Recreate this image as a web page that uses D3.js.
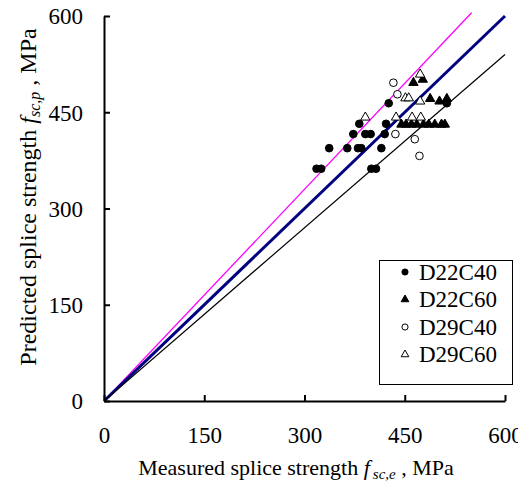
<!DOCTYPE html>
<html>
<head>
<meta charset="utf-8">
<script src="https://d3js.org/d3.v7.min.js"></script>
<style>
  body { margin: 0; background: #fff; }
</style>
</head>
<body>
<div id="chart"></div>
<script>
// measured (x) and predicted (y) splice strength, MPa
var d22c40X = [318, 325, 400, 407, 337, 364, 380, 385, 415, 373, 391, 399, 420, 382, 422, 426, 513];
var d22c40Y = [362, 362, 362, 362, 394, 394, 394, 394, 394, 416, 416, 416, 416, 432, 432, 464, 464];
var d22c60X = [463, 477, 488, 502, 513, 445, 452, 460, 468, 478, 486, 495, 505, 510];
var d22c60Y = [496, 501, 471, 467, 471, 431, 431, 431, 431, 431, 431, 431, 431, 431];
var d29c40X = [433, 439, 436, 465, 472];
var d29c40Y = [496, 478, 416, 408, 382];
var d29c60X = [473, 451, 456, 473, 391, 437, 461, 474];
var d29c60Y = [509, 472, 472, 467, 442, 442, 442, 442];

var ticks = [0, 150, 300, 450, 600];
var seriesNames = ["D22C40", "D22C60", "D29C40", "D29C60"];
// reference lines y = k * x
var lineSlopes = [1.1, 1.0, 0.9];

var FONT = "'Liberation Serif', 'Times New Roman', Tinos, 'DejaVu Serif', serif";

function init()
{
    var W = 518, H = 485;
    var left = 104, top = 16;
    var w = 401, h = 385;

    var svg = d3.select("#chart")
                .append("svg")
                .attr("width", W)
                .attr("height", H)
                .style("font-family", FONT);

    var xScale = d3.scaleLinear().domain([0, 600]).range([left, left + w]);
    var yScale = d3.scaleLinear().domain([0, 600]).range([top + h, top]);

    // reference lines, clipped to the plot
    svg.append("clipPath").attr("id", "clip")
       .append("rect").attr("x", left).attr("y", top - 4).attr("width", w + 2).attr("height", h + 4);

    var lineStyle = [
        { color: "#ff00ff", width: 1.3 },
        { color: "#000080", width: 3 },
        { color: "#000000", width: 1.2 }
    ];
    svg.append("g").attr("clip-path", "url(#clip)")
       .selectAll("line")
       .data(lineSlopes)
       .enter()
       .append("line")
       .attr("x1", xScale(0))
       .attr("y1", yScale(0))
       .attr("x2", function(k) { return xScale(Math.min(600, 605 / k)); })
       .attr("y2", function(k) { return yScale(Math.min(600, 605 / k) * k); })
       .attr("stroke", function(k, i) { return lineStyle[i].color; })
       .attr("stroke-width", function(k, i) { return lineStyle[i].width; });

    // axes, ticks point inward
    var xAxis = d3.axisBottom(xScale).tickValues(ticks).tickSizeInner(-6).tickSizeOuter(0);
    var yAxis = d3.axisLeft(yScale).tickValues(ticks).tickSizeInner(-6).tickSizeOuter(0);

    var gx = svg.append("g").attr("transform", "translate(0," + (top + h) + ")").call(xAxis);
    var gy = svg.append("g").attr("transform", "translate(" + left + ",0)").call(yAxis);
    [gx, gy].forEach(function(g) {
        g.attr("font-family", null).attr("font-size", null);
        g.select(".domain").attr("stroke", "#000").attr("stroke-width", 2);
        g.selectAll(".tick line").attr("stroke", "#000").attr("stroke-width", 2);
        g.selectAll(".tick text")
         .attr("fill", "#000")
         .style("font-family", FONT)
         .style("font-size", "23px");
    });
    gx.selectAll(".tick text").attr("y", 42).attr("dy", null);
    gy.selectAll(".tick text").attr("x", -21).attr("dy", "0.34em");

    // points
    var series = [
        { xs: d22c40X, ys: d22c40Y, shape: d3.symbolCircle, fill: "#000" },
        { xs: d22c60X, ys: d22c60Y, shape: d3.symbolTriangle, fill: "#000" },
        { xs: d29c40X, ys: d29c40Y, shape: d3.symbolCircle, fill: "#fff" },
        { xs: d29c60X, ys: d29c60Y, shape: d3.symbolTriangle, fill: "#fff" }
    ];

    series.forEach(function(s) {
        var size = s.shape === d3.symbolCircle ? 46 : 38;
        svg.append("g")
           .selectAll("path")
           .data(s.xs)
           .enter()
           .append("path")
           .attr("d", d3.symbol().type(s.shape).size(size))
           .attr("transform", function(d, i) {
               return "translate(" + xScale(d) + "," + yScale(s.ys[i]) + ")";
           })
           .attr("fill", s.fill)
           .attr("stroke", "#000")
           .attr("stroke-width", 1);
    });

    // legend
    var lg = svg.append("g");
    lg.append("rect")
      .attr("x", 379.5).attr("y", 260.5)
      .attr("width", 133).attr("height", 124)
      .attr("fill", "#fff")
      .attr("stroke", "#000")
      .attr("stroke-width", 1);

    seriesNames.forEach(function(name, i) {
        var y = 272 + i * 27.5;
        lg.append("path")
          .attr("d", d3.symbol().type(series[i].shape).size(series[i].shape === d3.symbolCircle ? 30 : 26))
          .attr("transform", "translate(405," + y + ")")
          .attr("fill", series[i].fill)
          .attr("stroke", "#000")
          .attr("stroke-width", 1);
        lg.append("text")
          .attr("x", 419)
          .attr("y", y + 7.5)
          .style("font-family", FONT)
          .style("font-size", "23px")
          .text(name);
    });

    // axis titles
    var xt = svg.append("text")
                .attr("x", 296)
                .attr("y", 474.5)
                .attr("text-anchor", "middle")
                .style("font-family", FONT)
                .style("font-size", "22px");
    xt.append("tspan").text("Measured splice strength ");
    xt.append("tspan").attr("font-style", "italic").text("f");
    xt.append("tspan").attr("font-style", "italic").style("font-size", "15px").attr("dy", 4).attr("dx", 3).text("sc,e");
    xt.append("tspan").attr("dy", -4).text(" , MPa");

    var yt = svg.append("text")
                .attr("transform", "translate(36,197) rotate(-90)")
                .attr("text-anchor", "middle")
                .style("font-family", FONT)
                .style("font-size", "24px");
    yt.append("tspan").text("Predicted splice strength ");
    yt.append("tspan").attr("font-style", "italic").text("f");
    yt.append("tspan").attr("font-style", "italic").style("font-size", "16px").attr("dy", 4).text("sc,p");
    yt.append("tspan").attr("dy", -4).text(" , MPa");
}
window.onload = init;
</script>
</body>
</html>
